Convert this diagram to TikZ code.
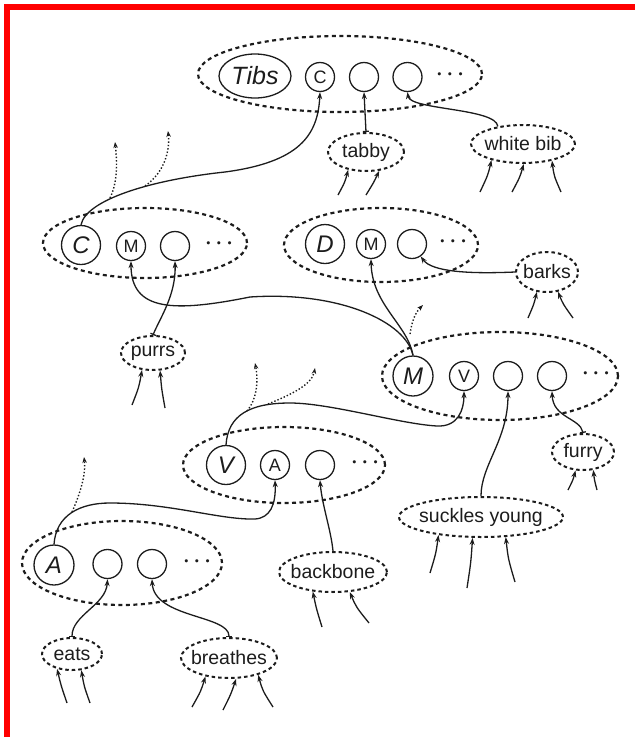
\documentclass[tikz,border=0pt]{standalone}
\usepackage{fontspec}
\setmainfont{Liberation Sans}
\usetikzlibrary{shapes.geometric,arrows.meta}
\definecolor{ink}{RGB}{28,28,28}
\newcommand\zb[1]{\makebox[0pt]{#1}}
\begin{document}
\begin{tikzpicture}[x=1pt,y=-1pt,
  grp/.style={ellipse,draw=ink,line width=2.2pt,dash pattern=on 4pt off 3.5pt,inner sep=0pt},
  lbl/.style={ellipse,draw=ink,line width=2pt,dash pattern=on 3.5pt off 3pt,inner sep=0pt,font=\fontsize{19.5}{20}\selectfont,text=ink},
  bigc/.style={circle,draw=ink,line width=1.3pt,minimum size=39pt,inner sep=0pt,font=\fontsize{24}{24}\selectfont\itshape,text=ink},
  smc/.style={circle,draw=ink,line width=1.3pt,minimum size=29pt,inner sep=0pt,font=\fontsize{18}{18}\selectfont,text=ink},
  dts/.style={inner sep=0pt,font=\fontsize{20}{20}\selectfont\boldmath,text=ink},
  arr/.style={draw=ink,line width=1.3pt,-{Stealth[length=7pt,width=5pt]}},
  larr/.style={draw=ink,line width=1.3pt,{Bar[width=6pt]}-{Stealth[length=7pt,width=5pt]}},
  dotarr/.style={draw=ink,line width=1.4pt,dash pattern=on 1.4pt off 2pt,-{Stealth[length=6pt,width=4.5pt]}},
]
\useasboundingbox (0,0) rectangle (635,737);
\draw[red,line width=5.5pt] (6.75,737) -- (6.75,6.75) -- (635,6.75);

% Tibs group
\node[grp,minimum width=284pt,minimum height=76pt] (gT) at (340,74) {};
\node[ellipse,draw=ink,line width=1.3pt,minimum width=72pt,minimum height=44pt,inner sep=0pt,font=\fontsize{25}{25}\selectfont\itshape,text=ink] (tibs) at (255,76) {\zb{Tibs}};
\node[smc] (tC) at (320,77) {C};
\node[smc] (t1) at (364,77) {};
\node[smc] (t2) at (407.5,77) {};
\node[dts] (tDots) at (450,75) {$\cdots$};
\node[lbl,minimum width=76pt,minimum height=38pt] (tabby) at (366,152) {\zb{tabby}};
\node[lbl,minimum width=104pt,minimum height=38pt] (wbib) at (523,144) {\zb{white bib}};

% C group
\node[grp,minimum width=204pt,minimum height=70pt] (gC) at (145,243) {};
\node[bigc] (cC) at (81,245) {C};
\node[smc] (cM) at (131,246) {M};
\node[smc] (c1) at (175,246) {};
\node[dts] (cDots) at (219,244) {$\cdots$};

% D group
\node[grp,minimum width=194pt,minimum height=74pt] (gD) at (381,245) {};
\node[bigc] (dD) at (325,244) {D};
\node[smc] (dM) at (371,244) {M};
\node[smc] (d1) at (412,244) {};
\node[dts] (dDots) at (453,242) {$\cdots$};
\node[lbl,minimum width=62pt,minimum height=40pt] (barks) at (547,272) {\zb{barks}};

\node[lbl,minimum width=64pt,minimum height=34pt] (purrs) at (153,353) {\zb{purrs}};

% M group
\node[grp,minimum width=236pt,minimum height=88pt] (gM) at (500,376) {};
\node[bigc,minimum size=40pt] (mM) at (413,376) {M};
\node[smc] (mV) at (464,376) {V};
\node[smc] (m1) at (508,376) {};
\node[smc] (m2) at (552,376) {};
\node[dts] (mDots) at (596,374) {$\cdots$};
\node[lbl,minimum width=62pt,minimum height=36pt] (furry) at (583,452) {\zb{furry}};
\node[lbl,minimum width=164pt,minimum height=40pt] (suck) at (481,517) {\zb{suckles young}};

% V group
\node[grp,minimum width=202pt,minimum height=76pt] (gV) at (284,465) {};
\node[bigc] (vV) at (226,465) {V};
\node[smc] (vA) at (275,465) {A};
\node[smc] (v1) at (320,465) {};
\node[dts] (vDots) at (365,463) {$\cdots$};
\node[lbl,minimum width=108pt,minimum height=40pt] (bone) at (333,572) {\zb{backbone}};

% A group
\node[grp,minimum width=200pt,minimum height=84pt] (gA) at (122,563) {};
\node[bigc,minimum size=40pt] (aA) at (54,565) {A};
\node[smc] (a1) at (107.5,564) {};
\node[smc] (a2) at (152,564) {};
\node[dts] (aDots) at (197,562) {$\cdots$};
\node[lbl,minimum width=60pt,minimum height=32pt] (eats) at (72,654) {\zb{eats}};
\node[lbl,minimum width=96pt,minimum height=40pt] (breathes) at (229,658) {\zb{breathes}};

% main connectors
\coordinate (k1) at (225,172);
\draw[arr] (cC.north) .. controls (86,200) and (150,180) .. (k1) .. controls (300,162) and (318,135) .. (tC.south);
\coordinate (q1) at (110,198); \coordinate (q1e) at (115,142);
\draw[dotarr] (q1) .. controls (118,182) and (117,160) .. (q1e);
\coordinate (q2) at (145,186); \coordinate (q2e) at (168,131);
\draw[dotarr] (q2) .. controls (165,172) and (170,150) .. (q2e);

\draw[larr] (tabby.north) -- (t1.south);
\draw[arr] (wbib.145) .. controls (496,108) and (410,110) .. (t2.south);
\draw[arr] (barks.west) .. controls (470,274) and (432,272) .. (d1.-55);
\draw[larr] (purrs.north) .. controls (160,318) and (176,295) .. (c1.south);

\coordinate (k2) at (250,297);
\draw[arr] (mM.north) .. controls (406,322) and (340,291) .. (k2) .. controls (175,312) and (131,312) .. (cM.south);
\draw[arr] (mM.north) .. controls (408,325) and (372,305) .. (dM.south);
\coordinate (q3) at (410,334); \coordinate (q3e) at (423,305);
\draw[dotarr] (q3) .. controls (412,320) and (416,312) .. (q3e);

\coordinate (k3) at (290,403);
\coordinate (k4) at (437,426);
\draw[arr] (vV.north) .. controls (228,415) and (250,403) .. (k3) .. controls (330,403) and (400,424) .. (k4) .. controls (458,427) and (464,410) .. (mV.south);
\coordinate (q4) at (247,411); \coordinate (q4e) at (255,363);
\draw[dotarr] (q4) .. controls (258,398) and (258,378) .. (q4e);
\coordinate (q5) at (268,404); \coordinate (q5e) at (315,368);
\draw[dotarr] (q5) .. controls (290,395) and (312,385) .. (q5e);

\draw[arr] (suck.north) .. controls (481,465) and (508,440) .. (m1.south);
\draw[larr] (furry.north) .. controls (580,418) and (553,418) .. (m2.south);

\coordinate (k5) at (110,503);
\coordinate (k6) at (255,519);
\draw[arr] (aA.north) .. controls (56,515) and (80,503) .. (k5) .. controls (170,503) and (220,520) .. (k6) .. controls (270,518) and (276,505) .. (vA.south);
\coordinate (q6) at (72,512); \coordinate (q6e) at (84,457);
\draw[dotarr] (q6) .. controls (80,494) and (86,475) .. (q6e);

\draw[arr] (bone.north) .. controls (331,530) and (322,505) .. (v1.south);
\draw[larr] (eats.north) .. controls (72,615) and (106,605) .. (a1.south);
\draw[larr] (breathes.north) .. controls (229,615) and (154,618) .. (a2.south);

% incoming arrows
\coordinate (s1) at (338,195); \draw[arr] (s1) .. controls (345,182) .. (tabby.225);
\coordinate (s2) at (366,195); \draw[arr] (s2) .. controls (374,182) .. (tabby.305);
\coordinate (s3) at (480,192); \draw[arr] (s3) .. controls (488,175) .. (wbib.207);
\coordinate (s4) at (512,192); \draw[arr] (s4) .. controls (520,177) .. (wbib.272);
\coordinate (s5) at (561,192); \draw[arr] (s5) .. controls (554,176) .. (wbib.330);
\coordinate (s6) at (528,318); \draw[arr] (s6) .. controls (534,304) .. (barks.243);
\coordinate (s7) at (573,318); \draw[arr] (s7) .. controls (563,304) .. (barks.299);
\coordinate (s8) at (132,405); \draw[arr] (s8) .. controls (139,387) .. (purrs.237);
\coordinate (s9) at (165,408); \draw[arr] (s9) .. controls (161.6,389) .. (purrs.292);
\coordinate (s10) at (568,490); \draw[arr] (s10) .. controls (573,480) .. (furry.248);
\coordinate (s11) at (597,490); \draw[arr] (s11) .. controls (594.3,479.5) .. (furry.300);
\coordinate (s12) at (430,573); \draw[arr] (s12) .. controls (435.9,553.6) .. (suck.203);
\coordinate (s13) at (467,588); \draw[arr] (s13) .. controls (470.9,562.5) .. (suck.248);
\coordinate (s14) at (515,582); \draw[arr] (s14) .. controls (508.2,559) .. (suck.321);
\coordinate (s15) at (322,627); \draw[arr] (s15) .. controls (316.4,608.8) .. (bone.224);
\coordinate (s16) at (369,623); \draw[arr] (s16) .. controls (356.1,607) .. (bone.310);
\coordinate (s17) at (67,703); \draw[arr] (s17) .. controls (61,685.5) .. (eats.225);
\coordinate (s18) at (90,703); \draw[arr] (s18) .. controls (84,686) .. (eats.300);
\coordinate (s19) at (192,707); \draw[arr] (s19) .. controls (201,691) .. (breathes.218);
\coordinate (s20) at (223,710); \draw[arr] (s20) .. controls (231,694) .. (breathes.289);
\coordinate (s21) at (273,707); \draw[arr] (s21) .. controls (262.5,690.5) .. (breathes.330);
\end{tikzpicture}
\end{document}
